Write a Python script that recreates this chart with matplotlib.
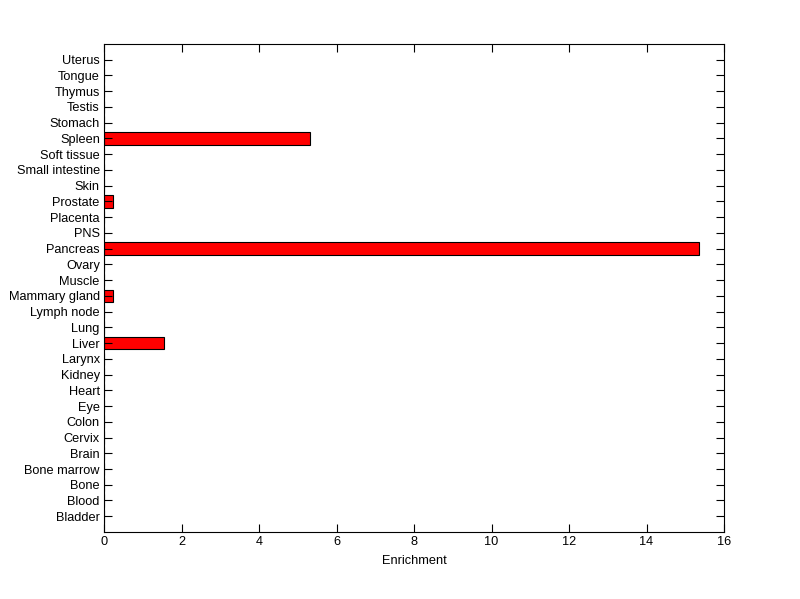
import matplotlib
matplotlib.use("Agg")
import matplotlib.pyplot as plt

tissues = ["Bladder", "Blood", "Bone", "Bone marrow", "Brain", "Cervix", "Colon", "Eye",
           "Heart", "Kidney", "Larynx", "Liver", "Lung", "Lymph node", "Mammary gland",
           "Muscle", "Ovary", "Pancreas", "PNS", "Placenta", "Prostate", "Skin",
           "Small intestine", "Soft tissue", "Spleen", "Stomach", "Testis", "Thymus",
           "Tongue", "Uterus"]
enrichment = [0, 0, 0, 0, 0, 0, 0, 0,
              0, 0, 0, 1.56, 0, 0, 0.24,
              0, 0, 15.35, 0, 0, 0.24, 0,
              0, 0, 5.32, 0, 0, 0,
              0, 0]
xticks = [0, 2, 4, 6, 8, 10, 12, 14, 16]

plt.rcParams['font.family'] = ['Liberation Sans', 'DejaVu Sans']
fig = plt.figure(figsize=(8, 5.99), dpi=100)
ax = fig.add_axes([0.13, 0.1119, 0.775, 0.8147])
pos = list(range(1, len(tissues) + 1))
ax.barh(pos, enrichment, height=0.8, color='#ff0000', edgecolor='black', linewidth=0.8)
ax.set_xlim(0, 16)
ax.set_ylim(0, len(tissues) + 1)
ax.set_yticks(pos)
ax.set_yticklabels(tissues, fontsize=9.2)
ax.set_xticks(xticks)
ax.set_xticklabels([str(t) for t in xticks], fontsize=9.2)
ax.set_xlabel('Enrichment', fontsize=9.2, labelpad=5)
ax.tick_params(direction='in', top=True, right=True, length=6, width=0.8, pad=3)
for s in ax.spines.values():
    s.set_linewidth(0.8)
fig.savefig('out.png', dpi=100)
